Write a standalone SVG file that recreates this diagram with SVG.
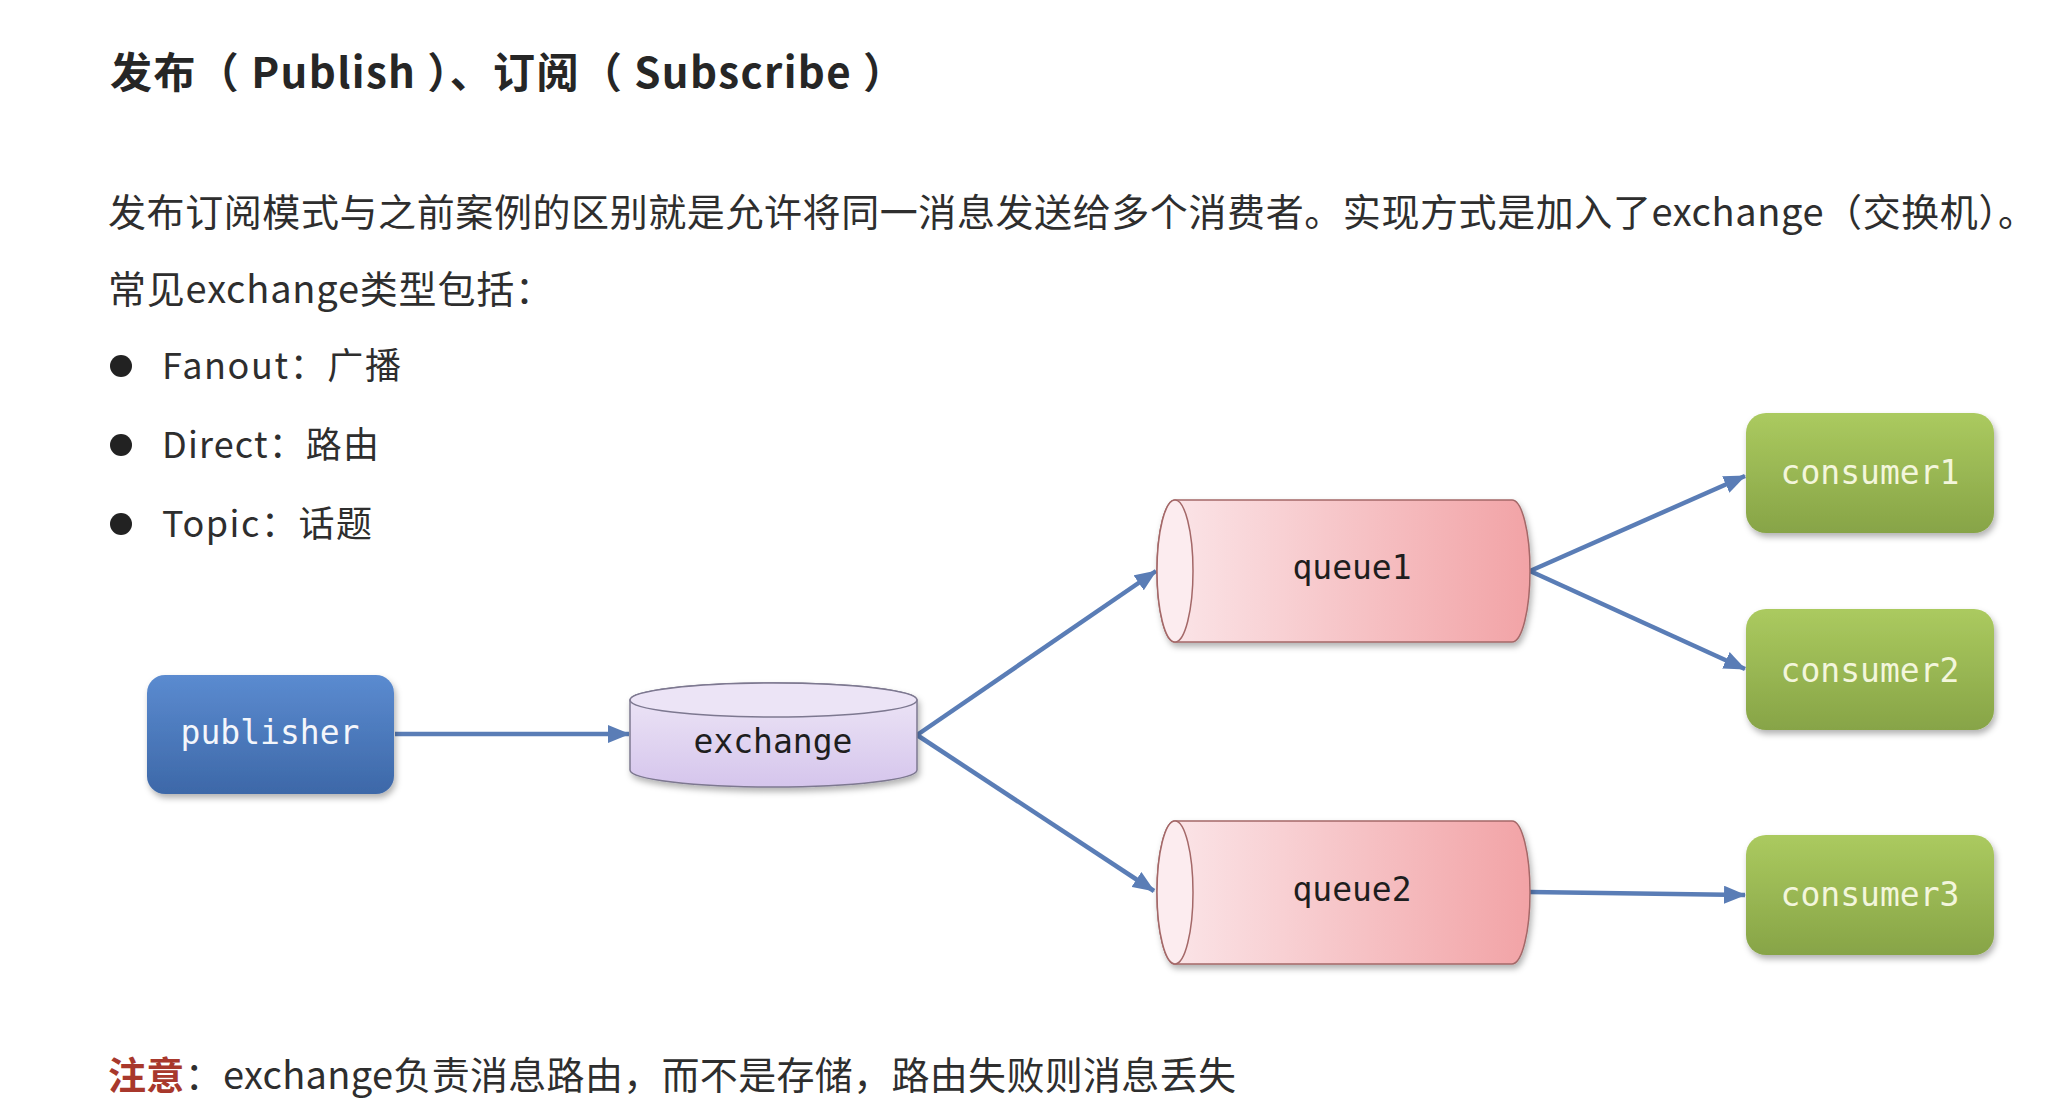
<svg xmlns="http://www.w3.org/2000/svg" width="2058" height="1112" viewBox="0 0 2058 1112">
<style>
.txt{font-family:"Noto Sans CJK SC","Noto Sans",sans-serif;fill:#2e2e2e;}
.title{font-size:42px;font-weight:bold;fill:#262626;}
.body{font-size:38px;}
.bul{font-size:36px;}
.mono{font-family:"DejaVu Sans Mono","Liberation Mono",monospace;font-size:33px;text-anchor:middle;}
.conn{stroke:#5a7db6;stroke-width:4.5;fill:none;marker-end:url(#arr);}
.cyl{stroke:#7d7890;stroke-width:1.5;}
.q{stroke:#a46868;stroke-width:1.5;}
</style>
<defs>
<marker id="arr" markerUnits="userSpaceOnUse" markerWidth="22" markerHeight="18" viewBox="0 0 22 18" refX="21" refY="9" orient="auto">
<path d="M0,0 L22,9 L0,18 Z" fill="#5a7db6"/>
</marker>
<linearGradient id="gPub" x1="0" y1="0" x2="0" y2="1"><stop offset="0" stop-color="#5b8bd0"/><stop offset="1" stop-color="#3d68a8"/></linearGradient>
<linearGradient id="gCon" x1="0" y1="0" x2="0" y2="1"><stop offset="0" stop-color="#abca5f"/><stop offset="1" stop-color="#87a447"/></linearGradient>
<linearGradient id="gEx" x1="0" y1="0" x2="0" y2="1"><stop offset="0" stop-color="#efe8f7"/><stop offset="1" stop-color="#d5c5ec"/></linearGradient>
<linearGradient id="gQ" x1="0" y1="0" x2="1" y2="0"><stop offset="0" stop-color="#fbe7ea"/><stop offset="1" stop-color="#f2a3a6"/></linearGradient>
<filter id="sh" x="-10%" y="-10%" width="125%" height="130%"><feDropShadow dx="2" dy="4" stdDeviation="3" flood-color="#000" flood-opacity="0.3"/></filter>
</defs>
<rect width="2058" height="1112" fill="#ffffff"/>

<text class="txt title" x="110" y="88" textLength="795">发布（ Publish ）、订阅（ Subscribe ）</text>
<text class="txt body" x="108" y="226" textLength="1928">发布订阅模式与之前案例的区别就是允许将同一消息发送给多个消费者。实现方式是加入了exchange（交换机）。</text>
<text class="txt body" x="108" y="303" textLength="445">常见exchange类型包括：</text>

<circle cx="121" cy="366" r="11" fill="#222"/>
<text class="txt bul" x="162" y="379" textLength="239">Fanout：广播</text>
<circle cx="121" cy="445" r="11" fill="#222"/>
<text class="txt bul" x="162" y="458" textLength="217">Direct：路由</text>
<circle cx="121" cy="524" r="11" fill="#222"/>
<text class="txt bul" x="162" y="537" textLength="210">Topic：话题</text>

<text class="txt body" x="108" y="1089" textLength="1128"><tspan font-weight="bold" fill="#a8382c">注意</tspan>：exchange负责消息路由，而不是存储，路由失败则消息丢失</text>

<g id="connectors">
<line class="conn" x1="395" y1="734" x2="629" y2="734"/>
<line class="conn" x1="917" y1="735" x2="1156" y2="571"/>
<line class="conn" x1="917" y1="735" x2="1154" y2="891"/>
<line class="conn" x1="1530" y1="571" x2="1745" y2="476"/>
<line class="conn" x1="1530" y1="571" x2="1745" y2="669"/>
<line class="conn" x1="1530" y1="892" x2="1745" y2="895"/>
</g>

<g id="publisher">
<rect x="147" y="675" width="247" height="119" rx="18" fill="url(#gPub)" filter="url(#sh)"/>
<text class="mono" x="270" y="744" fill="#f4f6fb">publisher</text>
</g>

<g id="exchange">
<path class="cyl" d="M630,700 A143.5,17 0 0 1 917,700 L917,770 A143.5,17 0 0 1 630,770 Z" fill="url(#gEx)" filter="url(#sh)"/>
<ellipse class="cyl" cx="773.5" cy="700" rx="143.5" ry="17" fill="#ece4f6"/>
<text class="mono" x="773" y="753" fill="#1e1e1e">exchange</text>
</g>

<g id="queue1">
<path class="q" d="M1175,500 L1512,500 A18,71 0 0 1 1512,642 L1175,642 A18,71 0 0 1 1175,500 Z" fill="url(#gQ)" filter="url(#sh)"/>
<ellipse class="q" cx="1175" cy="571" rx="18" ry="71" fill="#fcecef"/>
<text class="mono" x="1352" y="579" fill="#1e1e1e">queue1</text>
</g>

<g id="queue2">
<path class="q" d="M1175,821 L1512,821 A18,71.5 0 0 1 1512,964 L1175,964 A18,71.5 0 0 1 1175,821 Z" fill="url(#gQ)" filter="url(#sh)"/>
<ellipse class="q" cx="1175" cy="892.5" rx="18" ry="71.5" fill="#fcecef"/>
<text class="mono" x="1352" y="901" fill="#1e1e1e">queue2</text>
</g>

<g id="consumer1">
<rect x="1746" y="413" width="248" height="120" rx="20" fill="url(#gCon)" filter="url(#sh)"/>
<text class="mono" x="1870" y="484" fill="#f3f6dc">consumer1</text>
</g>
<g id="consumer2">
<rect x="1746" y="609" width="248" height="121" rx="20" fill="url(#gCon)" filter="url(#sh)"/>
<text class="mono" x="1870" y="682" fill="#f3f6dc">consumer2</text>
</g>
<g id="consumer3">
<rect x="1746" y="835" width="248" height="120" rx="20" fill="url(#gCon)" filter="url(#sh)"/>
<text class="mono" x="1870" y="906" fill="#f3f6dc">consumer3</text>
</g>
</svg>
